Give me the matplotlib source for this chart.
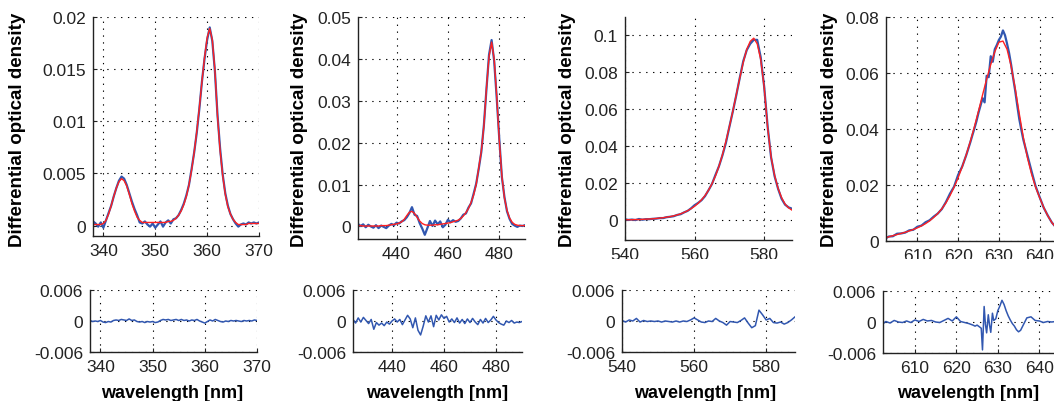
import matplotlib
matplotlib.use("Agg")
import matplotlib.pyplot as plt
from matplotlib.patches import Rectangle
import numpy as np

plt.rcParams["font.family"] = ["Liberation Sans", "DejaVu Sans"]

# ---------------- data ----------------
# panel 1 (338-370 nm, 0.5 nm grid)
wl1 = np.arange(338, 370.01, 0.5)
data1 = [0.0004, 0.0002, -0.0001, 0.0003, -0.0002, 0.0005, 0.0012, 0.0019, 0.0028, 0.0036,
         0.0043, 0.0047, 0.0045, 0.0039, 0.0031, 0.0023, 0.0016, 0.0010, 0.0003, 0.0002,
         0.0004, 0.0001, -0.0001, 0.0002, -0.0002, 0.0001, 0.0004, -0.0001, 0.0003, 0.0005,
         0.0002, 0.0006, 0.0007, 0.0010, 0.0015, 0.0021, 0.0029, 0.0039, 0.0054, 0.0070,
         0.0089, 0.0112, 0.0138, 0.0160, 0.0178, 0.0190, 0.0177, 0.0148, 0.0106, 0.0074,
         0.0049, 0.0031, 0.0019, 0.0011, 0.0006, 0.0002, -0.0001, 0.0001, 0.0002, 0.0001,
         0.0003, 0.0002, 0.0003, 0.0002, 0.0003]
fit1 = [0.0001, 0.0001, 0.0001, 0.0001, 0.0002, 0.0005, 0.0011, 0.0019, 0.0028, 0.0036,
        0.0042, 0.0045, 0.0043, 0.0038, 0.0030, 0.0021, 0.0014, 0.0008, 0.0005, 0.0003,
        0.0003, 0.0003, 0.0003, 0.0003, 0.0003, 0.0003, 0.0003, 0.0003, 0.0003, 0.0004,
        0.0004, 0.0005, 0.0007, 0.0010, 0.0014, 0.0020, 0.0028, 0.0039, 0.0053, 0.0070,
        0.0090, 0.0113, 0.0138, 0.0161, 0.0180, 0.0189, 0.0178, 0.0149, 0.0105, 0.0072,
        0.0048, 0.0030, 0.0018, 0.0011, 0.0006, 0.0003, 0.0001, 0.0001, 0.0001, 0.0001,
        0.0002, 0.0002, 0.0002, 0.0002, 0.0002]
res1 = [0.0001, -0.0001, 0.0000, -0.0001, 0.0001, -0.0002, -0.0003, -0.0001, -0.0002, 0.0001,
        0.0002, 0.0001, 0.0003, 0.0002, 0.0001, 0.0004, 0.0001, 0.0002, -0.0001, -0.0002,
        -0.0001, -0.0003, -0.0001, -0.0002, -0.0001, -0.0003, -0.0002, 0.0001, 0.0003, 0.0002,
        0.0003, 0.0001, 0.0002, 0.0003, 0.0001, 0.0003, 0.0001, 0.0002, 0.0000, 0.0002,
        0.0001, 0.0003, 0.0000, -0.0002, -0.0004, -0.0001, 0.0002, 0.0000, 0.0003, 0.0001,
        -0.0001, -0.0002, 0.0000, -0.0001, 0.0001, 0.0000, 0.0001, 0.0000, -0.0001, 0.0001,
        0.0000, 0.0001, 0.0000, 0.0002, 0.0001]

# panel 2 (425-490 nm, 1 nm grid)
wl2 = np.arange(425, 490.01, 1.0)
data2 = [0.0006, 0.0001, 0.0005, -0.0002, 0.0004, 0.0000, -0.0003, 0.0003, -0.0004, 0.0002,
         -0.0001, -0.0004, 0.0002, 0.0006, 0.0003, 0.0009, 0.0007, 0.0012, 0.0015, 0.0022,
         0.0032, 0.0046, 0.0028, 0.0025, 0.0008, -0.0005, -0.0020, -0.0004, 0.0013, 0.0001,
         0.0014, 0.0005, 0.0012, -0.0002, 0.0004, 0.0016, 0.0010, 0.0015, 0.0011, 0.0013,
         0.0019, 0.0028, 0.0031, 0.0045, 0.0055, 0.0078, 0.0102, 0.0138, 0.0178, 0.0242,
         0.0328, 0.0410, 0.0445, 0.0395, 0.0306, 0.0208, 0.0118, 0.0070, 0.0036, 0.0018,
         0.0006, 0.0002, -0.0001, 0.0002, 0.0001, 0.0003]
fit2 = [0.0002, 0.0002, 0.0001, 0.0001, 0.0001, 0.0001, 0.0001, 0.0001, 0.0001, 0.0002,
        0.0002, 0.0002, 0.0003, 0.0004, 0.0005, 0.0006, 0.0008, 0.0011, 0.0017, 0.0026,
        0.0034, 0.0036, 0.0031, 0.0022, 0.0013, 0.0007, 0.0004, 0.0003, 0.0003, 0.0003,
        0.0004, 0.0004, 0.0005, 0.0006, 0.0007, 0.0008, 0.0009, 0.0011, 0.0013, 0.0015,
        0.0019, 0.0025, 0.0033, 0.0043, 0.0057, 0.0075, 0.0100, 0.0140, 0.0180, 0.0240,
        0.0330, 0.0405, 0.0440, 0.0400, 0.0310, 0.0205, 0.0120, 0.0068, 0.0038, 0.0020,
        0.0010, 0.0005, 0.0003, 0.0002, 0.0002, 0.0002]
res2 = [0.0003, -0.0004, 0.0006, -0.0002, 0.0007, 0.0001, -0.0005, 0.0003, -0.0016, -0.0003,
        -0.0008, -0.0004, -0.0009, -0.0002, -0.0006, 0.0000, 0.0004, -0.0002, 0.0003, -0.0007,
        0.0002, 0.0011, 0.0004, -0.0013, 0.0006, -0.0018, -0.0027, -0.0010, 0.0010, -0.0002,
        0.0010, -0.0011, 0.0011, 0.0002, 0.0012, 0.0005, 0.0009, -0.0002, 0.0004, -0.0003,
        0.0006, -0.0004, 0.0003, -0.0005, 0.0004, -0.0003, 0.0005, -0.0002, -0.0007, 0.0003,
        -0.0004, 0.0005, -0.0003, 0.0002, 0.0009, 0.0002, -0.0003, -0.0006, -0.0008, 0.0000,
        -0.0003, 0.0001, -0.0004, -0.0002, -0.0003, -0.0001]

# panel 3 (540-588 nm, 1 nm grid)
wl3 = np.arange(540, 588.01, 1.0)
data3 = [0.0002, -0.0001, 0.0001, -0.0002, 0.0004, 0.0000, 0.0003, 0.0003, 0.0005, 0.0006,
         0.0009, 0.0009, 0.0014, 0.0016, 0.0019, 0.0026, 0.0030, 0.0040, 0.0048, 0.0062,
         0.0079, 0.0091, 0.0106, 0.0128, 0.0160, 0.0194, 0.0243, 0.0290, 0.0349, 0.0417,
         0.0504, 0.0588, 0.0677, 0.0771, 0.0861, 0.0921, 0.0955, 0.0976, 0.0976, 0.0882,
         0.0722, 0.0505, 0.0337, 0.0236, 0.0168, 0.0114, 0.0082, 0.0067, 0.0060]
fit3 = [0.0000, 0.0000, 0.0000, 0.0001, 0.0001, 0.0002, 0.0003, 0.0004, 0.0005, 0.0007,
        0.0009, 0.0011, 0.0014, 0.0017, 0.0021, 0.0026, 0.0032, 0.0040, 0.0049, 0.0060,
        0.0073, 0.0089, 0.0108, 0.0131, 0.0160, 0.0195, 0.0238, 0.0290, 0.0352, 0.0425,
        0.0505, 0.0590, 0.0680, 0.0770, 0.0855, 0.0925, 0.0968, 0.0985, 0.0955, 0.0870,
        0.0720, 0.0500, 0.0340, 0.0240, 0.0170, 0.0120, 0.0085, 0.0065, 0.0052]
res3 = [0.0001, -0.0002, 0.0002, 0.0000, 0.0005, -0.0002, 0.0001, -0.0001, 0.0000, -0.0001,
        0.0000, -0.0002, 0.0000, -0.0001, -0.0002, 0.0000, -0.0002, 0.0000, -0.0001, 0.0002,
        0.0006, 0.0002, -0.0002, -0.0003, 0.0000, -0.0001, 0.0005, 0.0000, -0.0003, -0.0008,
        -0.0001, -0.0002, -0.0003, 0.0001, 0.0006, -0.0004, -0.0013, -0.0009, 0.0021, 0.0012,
        0.0002, 0.0005, -0.0003, -0.0004, -0.0002, -0.0006, -0.0003, 0.0002, 0.0008]

# panel 4 (602-645 nm)
wl4_fit = np.arange(602, 645.01, 1.0)
fit4 = [0.0010, 0.0015, 0.0019, 0.0023, 0.0027, 0.0031, 0.0036, 0.0041, 0.0047, 0.0054,
        0.0062, 0.0072, 0.0084, 0.0098, 0.0115, 0.0136, 0.0162, 0.0192, 0.0226, 0.0265,
        0.0308, 0.0356, 0.0408, 0.0464, 0.0522, 0.0578, 0.0630, 0.0676, 0.0710, 0.0714,
        0.0685, 0.0625, 0.0545, 0.0455, 0.0370, 0.0298, 0.0240, 0.0193, 0.0155, 0.0120,
        0.0090, 0.0066, 0.0048, 0.0036]
wl4_data = np.concatenate([np.arange(602, 623.01, 1.0),
                           np.arange(623.5, 636.01, 0.5),
                           np.arange(637, 645.01, 1.0)])
data4 = [0.0008, 0.0016, 0.0017, 0.0026, 0.0027, 0.0030, 0.0038, 0.0040, 0.0051, 0.0055,
         0.0067, 0.0074, 0.0087, 0.0098, 0.0114, 0.0139, 0.0169, 0.0194, 0.0236, 0.0266,
         0.0307, 0.0353,
         0.0378, 0.0402, 0.0428, 0.0458, 0.0484, 0.0510, 0.0495, 0.0590, 0.0585, 0.0660,
         0.0640, 0.0685, 0.0700, 0.0718, 0.0730, 0.0752, 0.0735, 0.0705, 0.0672, 0.0630,
         0.0582, 0.0537, 0.0485, 0.0436, 0.0398, 0.0362,
         0.0306, 0.0250, 0.0196, 0.0157, 0.0119, 0.0091, 0.0066, 0.0049, 0.0035]
wl4_res = [602.5, 603, 604, 605, 606, 607, 608, 609, 610, 611,
           612, 613, 614, 615, 616, 617, 618, 619, 620, 621,
           622, 623, 624, 624.5, 625, 625.5, 626, 626.3, 626.7, 627,
           627.3, 627.7, 628, 628.3, 628.7, 629, 629.5, 630, 630.5, 631,
           631.5, 632, 632.5, 633, 633.5, 634, 634.5, 635, 635.5, 636,
           637, 638, 639, 640, 641, 642, 643, 644, 645]
res4 = [-0.0002, 0.0001, -0.0002, 0.0003, 0.0000, -0.0001, 0.0002, -0.0001, 0.0004, 0.0001,
        0.0005, 0.0002, 0.0003, 0.0000, -0.0001, 0.0003, 0.0007, 0.0002, 0.0010, 0.0001,
        -0.0001, -0.0003, -0.0006, -0.0008, -0.0006, -0.0009, -0.0012, -0.0054, 0.0030, -0.0004,
        -0.0021, 0.0014, -0.0006, -0.0020, 0.0017, 0.0003, 0.0006, 0.0022, 0.0031, 0.0042,
        0.0034, 0.0022, 0.0012, 0.0004, -0.0003, -0.0008, -0.0015, -0.0019, -0.0016, -0.0008,
        0.0008, 0.0010, 0.0003, 0.0002, -0.0001, 0.0001, 0.0000, 0.0001, -0.0001]

# axis settings per column
xlims = [(338, 370), (425, 490), (540, 588), (602.3, 645)]
xticks = [[340, 350, 360, 370], [440, 460, 480], [540, 560, 580], [610, 620, 630, 640]]
ylims = [(-0.001, 0.02), (-0.003, 0.05), (-0.011, 0.11), (0, 0.08)]
yticks = [[0, 0.005, 0.01, 0.015, 0.02],
          [0, 0.01, 0.02, 0.03, 0.04, 0.05],
          [0, 0.02, 0.04, 0.06, 0.08, 0.1],
          [0, 0.02, 0.04, 0.06, 0.08]]
ytick_labels = [["0", "0.005", "0.01", "0.015", "0.02"],
                ["0", "0.01", "0.02", "0.03", "0.04", "0.05"],
                ["0", "0.02", "0.04", "0.06", "0.08", "0.1"],
                ["0", "0.02", "0.04", "0.06", "0.08"]]
res_ticks = [-0.006, 0, 0.006]
res_labels = ["-0.006", "0", "0.006"]

tops = [(wl1, data1, wl1, fit1), (wl2, data2, wl2, fit2),
        (wl3, data3, wl3, fit3), (wl4_data, data4, wl4_fit, fit4)]
bottoms = [(wl1, res1), (wl2, res2), (wl3, res3), (wl4_res, res4)]

# axes boxes in pixels (left, top, right, bottom) of a 1054x402 figure
W, H = 1054.0, 402.0
top_px = [(93, 18, 259, 237), (358, 18, 525, 240), (625, 18, 792, 241), (886, 18, 1060, 242)]
bot_px = [(90, 291, 257, 353), (353, 291, 522, 353), (622, 291, 795, 353), (883, 292, 1060, 354)]
ylab_x = [18, 300, 567, 829]
xlab_x = [172, 437, 705, 968]

BLUE = "#3157b0"
RED = "#ff2020"
grid_style = dict(color="k", linestyle=(0, (1.2, 5)), linewidth=0.8)


def make_axes(fig, box):
    l, t, r, b = box
    ax = fig.add_axes([l / W, 1 - b / H, (r - l) / W, (b - t) / H])
    for s in ["top", "right"]:
        ax.spines[s].set_visible(False)
    for s in ["left", "bottom"]:
        ax.spines[s].set_linewidth(1.0)
        ax.spines[s].set_color("#222222")
    ax.tick_params(direction="in", length=3, width=0.8, labelsize=12.5,
                   colors="#222222", pad=5)
    ax.grid(True, **grid_style)
    ax.set_axisbelow(True)
    return ax


fig = plt.figure(figsize=(W / 100, H / 100), dpi=100)

for i in range(4):
    # spectrum and fit
    ax = make_axes(fig, top_px[i])
    xd, yd, xf, yf = tops[i]
    ax.plot(xd, yd, color=BLUE, linewidth=1.6)
    ax.plot(xf, yf, color=RED, linewidth=1.0)
    ax.set_xlim(*xlims[i])
    ax.set_ylim(*ylims[i])
    ax.set_xticks(xticks[i])
    ax.set_yticks(yticks[i])
    ax.set_yticklabels(ytick_labels[i])

    # residual
    axr = make_axes(fig, bot_px[i])
    xr, yr = bottoms[i]
    axr.plot(xr, yr, color=BLUE, linewidth=1.1)
    axr.set_xlim(*xlims[i])
    axr.set_ylim(-0.006, 0.006)
    axr.set_xticks(xticks[i])
    axr.set_yticks(res_ticks)
    axr.set_yticklabels(res_labels)

    fig.text(ylab_x[i] / W, 1 - 130 / H, "Differential optical density",
             rotation=90, ha="center", va="center", fontsize=13.5, fontweight="bold")
    fig.text(xlab_x[i] / W, 1 - 394 / H, "wavelength [nm]",
             ha="center", va="center", fontsize=13, fontweight="bold")

# the top tick labels are cut off in the source figure
fig.add_artist(Rectangle((0, 1 - 284 / H), 1, (284 - 260) / H, transform=fig.transFigure,
                         facecolor="white", edgecolor="none", zorder=10))

fig.savefig("out.png", dpi=100)
